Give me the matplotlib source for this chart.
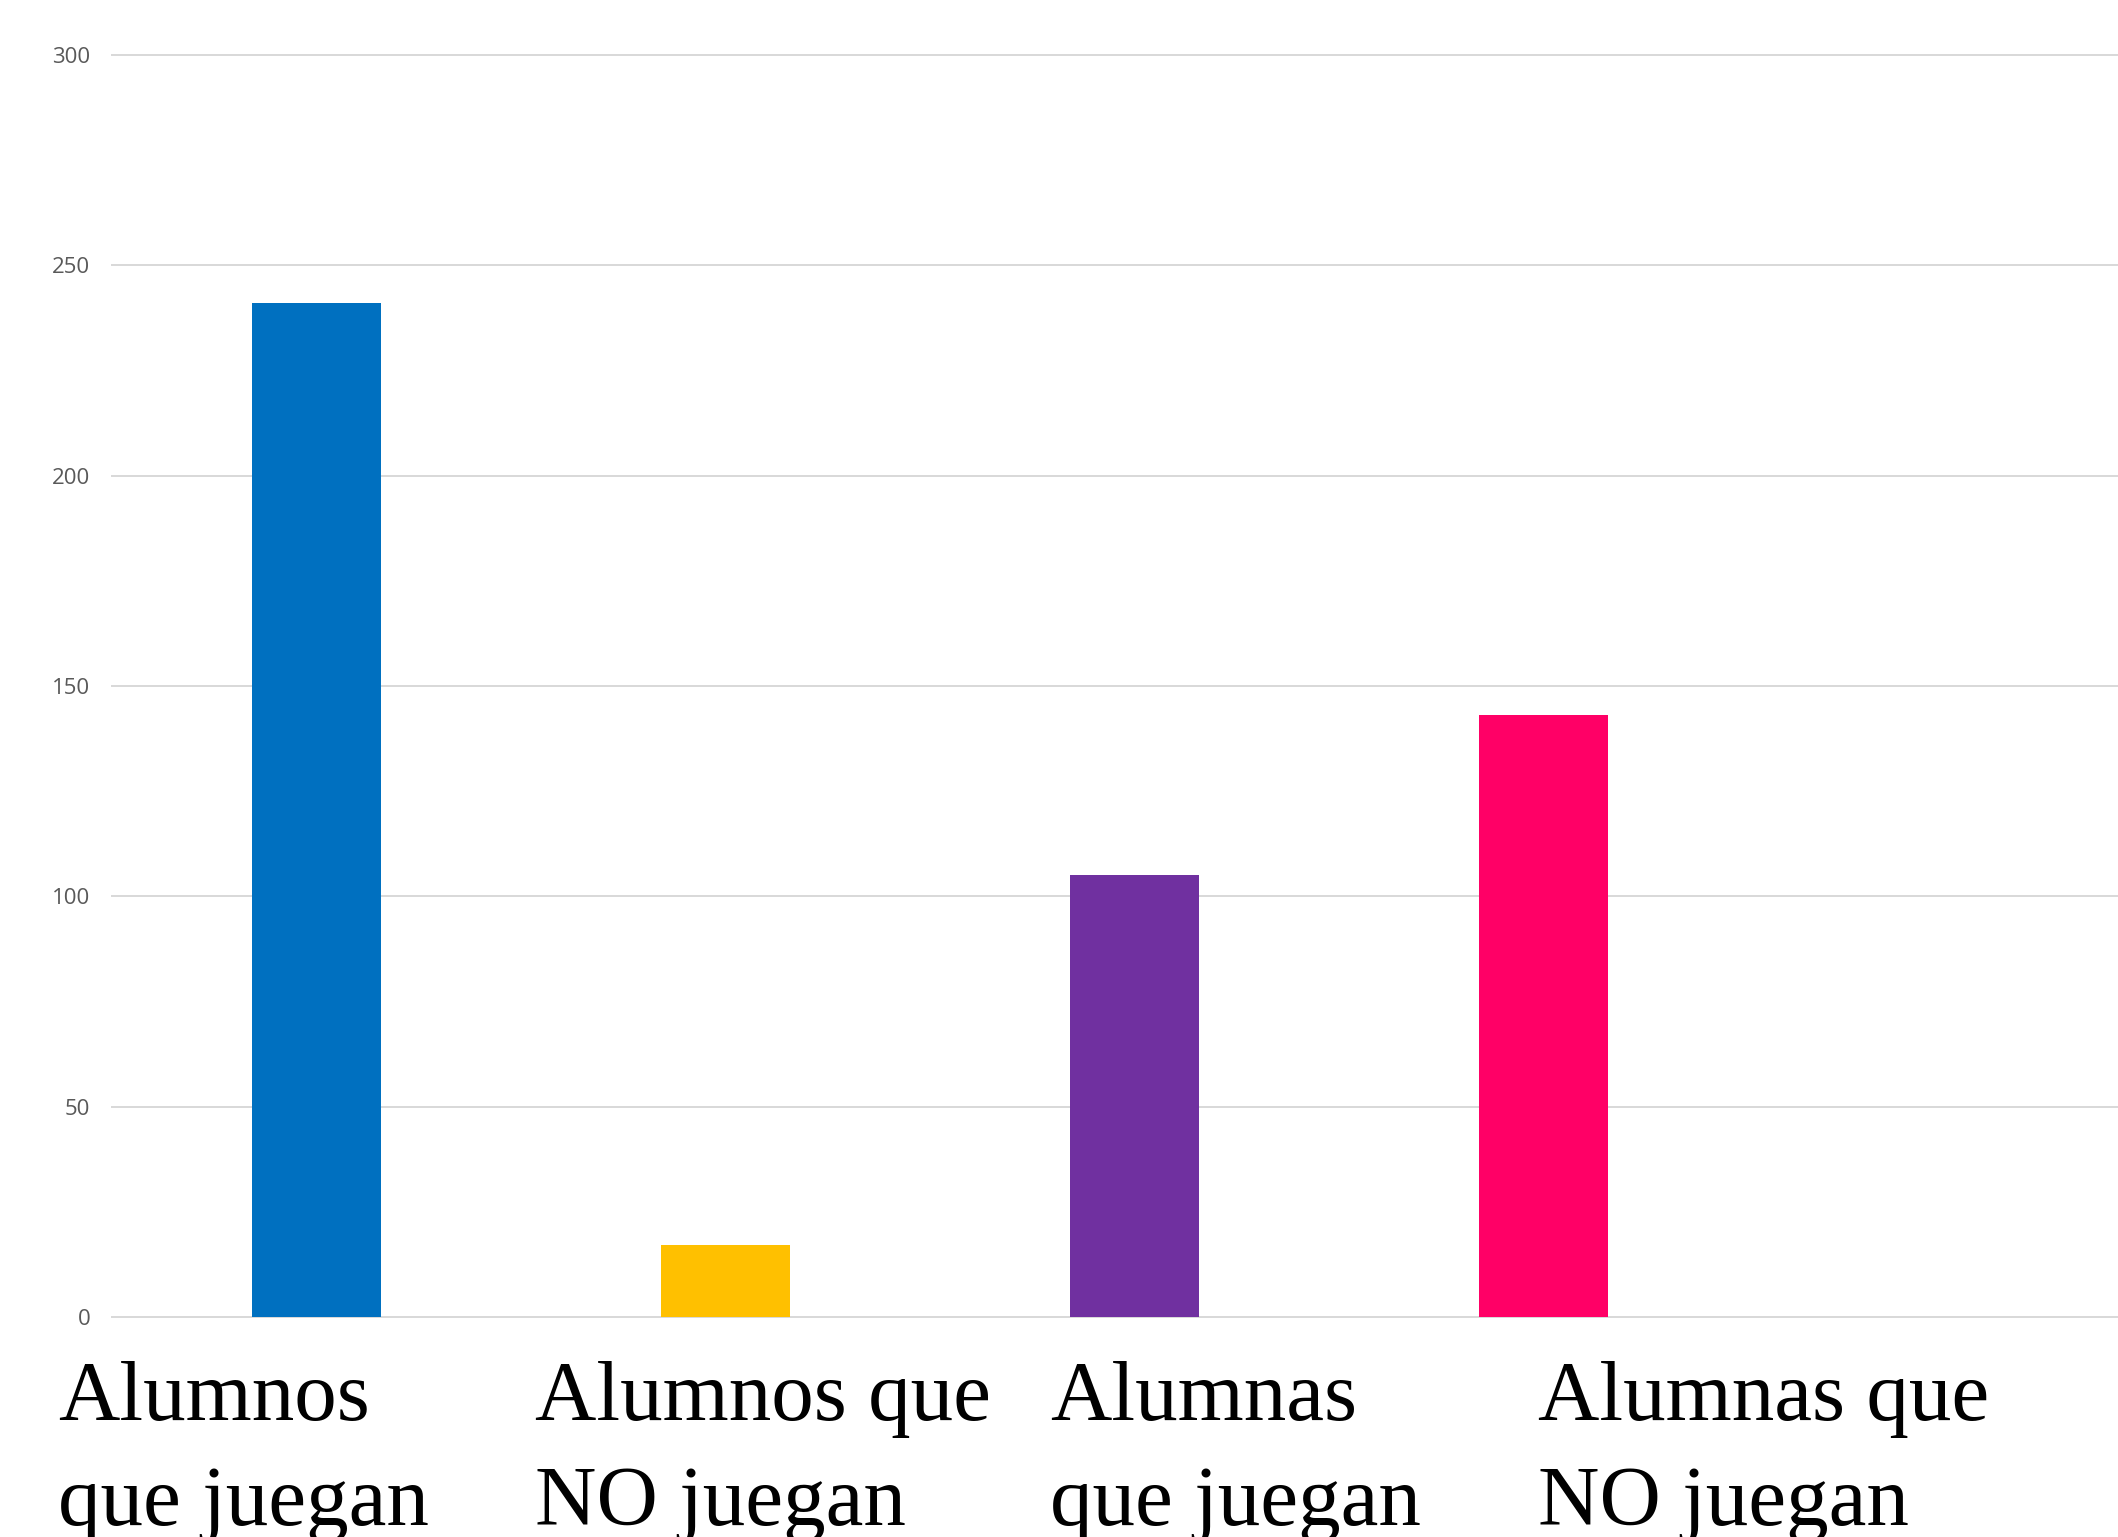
import matplotlib
matplotlib.use("Agg")
import matplotlib.pyplot as plt

# ---- data ----
categories = ["Alumnos\nque juegan", "Alumnos que\nNO juegan",
              "Alumnas\nque juegan", "Alumnas que\nNO juegan"]
values = [241, 17, 105, 143]
colors = ["#0070C0", "#FFC000", "#7030A0", "#FF0066"]
yticks = [0, 50, 100, 150, 200, 250, 300]

# ---- layout ----
W, H, DPI = 2118, 1537, 100
fig = plt.figure(figsize=(W / DPI, H / DPI), dpi=DPI)
left_px, top_px, bottom_px = 112, 55, 1317
slot_px = 409
ax = fig.add_axes([left_px / W, 1 - bottom_px / H, 1 - left_px / W, (bottom_px - top_px) / H])

x = list(range(len(categories)))
ax.bar(x, values, width=129 / slot_px, color=colors, zorder=3)
ax.set_xlim(-0.5, -0.5 + (W - left_px) / slot_px)
ax.set_ylim(0, 300)
ax.set_yticks(yticks)
ax.set_yticklabels([str(t) for t in yticks], fontfamily="Open Sans", fontsize=16, color="#595959")
ax.tick_params(axis="y", length=0, pad=15.5)
ax.set_xticks([])
ax.yaxis.grid(True, color="#D9D9D9", linewidth=1.44, zorder=0)
ax.set_axisbelow(True)
for gl in ax.get_ygridlines():
    gl.set_clip_on(False)
for s in ax.spines.values():
    s.set_visible(False)

# category labels (left-aligned blocks below the axis); anchor = last line baseline
label_left_px = [58, 535, 1050, 1538]
label_last_baseline_px = 1525
for lbl, lx in zip(categories, label_left_px):
    fig.text(lx / W, 1 - label_last_baseline_px / H, lbl, ha="left", va="baseline",
             fontfamily="Liberation Serif", fontsize=61.2, color="black",
             linespacing=1.477)

fig.savefig("out.png", dpi=DPI)
